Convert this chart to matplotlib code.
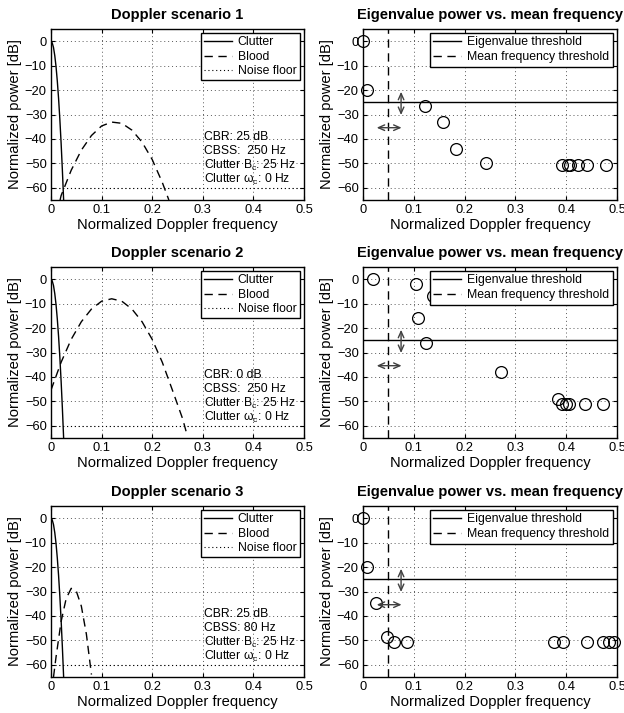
import matplotlib
matplotlib.use("Agg")
import matplotlib.pyplot as plt

plt.rcParams['font.family'] = ['Liberation Sans', 'DejaVu Sans']
plt.rcParams['mathtext.fontset'] = 'custom'
plt.rcParams['mathtext.rm'] = 'Liberation Sans'

# clutter spectrum (same in all scenarios)
clutter_f = [0, 0.0025, 0.005, 0.0075, 0.01, 0.0125, 0.015, 0.0175, 0.02, 0.0225, 0.025]
clutter_p = [0, -0.7, -2.6, -5.9, -10.4, -16.3, -23.4, -31.9, -41.6, -52.7, -65]

# blood spectra
blood1_f = [0.018, 0.02, 0.04, 0.06, 0.08, 0.10, 0.12, 0.14, 0.16, 0.18, 0.20, 0.22, 0.233]
blood1_p = [-65, -63.2, -52.8, -44.6, -38.6, -34.7, -33.1, -33.6, -36.4, -41.3, -48.4, -57.8, -65]
blood2_f = [0, 0.02, 0.04, 0.06, 0.08, 0.10, 0.12, 0.14, 0.16, 0.18, 0.20, 0.22, 0.24, 0.26, 0.268]
blood2_p = [-45.4, -34, -24.6, -17.4, -12.2, -9, -8, -9, -12.2, -17.4, -24.6, -34, -45.4, -57, -63]
blood3_f = [0.005, 0.01, 0.02, 0.03, 0.04, 0.05, 0.06, 0.07, 0.08]
blood3_p = [-65, -56.8, -42.3, -32.9, -28.7, -29.8, -36, -47.5, -64]

noise_floor = -60

# eigenvalue power vs mean frequency
eig1_f = [0.001, 0.007, 0.122, 0.157, 0.184, 0.242, 0.391, 0.403, 0.407, 0.424, 0.442, 0.478]
eig1_p = [0, -19.9, -26.5, -33.2, -44, -49.8, -50.7, -50.7, -50.7, -50.7, -50.7, -50.7]
eig2_f = [0.020, 0.104, 0.137, 0.109, 0.124, 0.271, 0.384, 0.392, 0.399, 0.405, 0.437, 0.473]
eig2_p = [0, -1.8, -7, -15.7, -26.2, -37.9, -49.1, -51, -51, -51, -51.2, -51.2]
eig3_f = [0.001, 0.008, 0.026, 0.047, 0.061, 0.086, 0.377, 0.394, 0.442, 0.473, 0.484, 0.494]
eig3_p = [0, -19.9, -34.9, -48.8, -50.7, -50.7, -50.7, -50.7, -50.7, -50.7, -50.7, -50.7]

eig_thresh = -25
freq_thresh = 0.05

scen_text = [
    ["CBR: 25 dB", "CBSS:  250 Hz"],
    ["CBR: 0 dB", "CBSS:  250 Hz"],
    ["CBR: 25 dB", "CBSS: 80 Hz"],
]
bloods = [(blood1_f, blood1_p), (blood2_f, blood2_p), (blood3_f, blood3_p)]
eigs = [(eig1_f, eig1_p), (eig2_f, eig2_p), (eig3_f, eig3_p)]

fig = plt.figure(figsize=(6.24, 7.13), dpi=100)
bottoms = [0.7195, 0.3857, 0.0505]
h = 0.2398


def style(ax, title):
    ax.set_xlim(0, 0.5)
    ax.set_ylim(-65, 5)
    ax.set_xticks([0, 0.1, 0.2, 0.3, 0.4, 0.5])
    ax.set_xticklabels(["0", "0.1", "0.2", "0.3", "0.4", "0.5"])
    ax.set_yticks([0, -10, -20, -30, -40, -50, -60])
    ax.tick_params(direction='in', top=True, right=True, length=3, labelsize=9.3, pad=3)
    ax.grid(True, linestyle=(0, (1, 3)), color='0.35', linewidth=0.7)
    for s in ax.spines.values():
        s.set_linewidth(1.0)
    ax.set_title(title, fontsize=10.5, fontweight='bold', pad=7)
    ax.set_xlabel("Normalized Doppler frequency", fontsize=10.6, labelpad=1)
    ax.set_ylabel("Normalized power [dB]", fontsize=10.6, labelpad=2)


arrow = dict(arrowstyle='<->,head_length=0.45,head_width=0.2', color='0.25', lw=1,
             shrinkA=0, shrinkB=0)

for i in range(3):
    # left: Doppler spectra
    ax = fig.add_axes([0.0817, bottoms[i], 0.4054, h])
    ax.plot(clutter_f, clutter_p, color='k', lw=1.0, label='Clutter')
    ax.plot(bloods[i][0], bloods[i][1], color='k', lw=1.0, dashes=(6, 4), label='Blood')
    ax.axhline(noise_floor, color='k', lw=0.8, dashes=(1, 2.5), label='Noise floor')
    style(ax, "Doppler scenario %d" % (i + 1))
    leg = ax.legend(loc='upper right', fontsize=8.8, fancybox=False, edgecolor='k',
                    framealpha=1, borderaxespad=0.35, handlelength=2.3,
                    borderpad=0.25, labelspacing=0.2, handletextpad=0.5)
    leg.get_frame().set_linewidth(1.0)
    lines = scen_text[i] + [r"Clutter B$_{\mathrm{c}}$: 25 Hz", "Clutter \u03c9$_{\\mathrm{c}}$: 0 Hz"]
    for j, t in enumerate(lines):
        ax.text(0.302, -39.1 - 5.8 * j, t, fontsize=8.7, va='center', ha='left')

    # right: eigenvalue power vs mean frequency
    ax2 = fig.add_axes([0.5817, bottoms[i], 0.407, h])
    ax2.axhline(eig_thresh, color='k', lw=1.0, label='Eigenvalue threshold')
    ax2.axvline(freq_thresh, color='k', lw=1.0, dashes=(6, 4), label='Mean frequency threshold')
    ax2.plot(eigs[i][0], eigs[i][1], 'o', mfc='none', mec='k', ms=8.5, mew=0.9, clip_on=False)
    ax2.annotate('', xy=(0.075, -20.7), xytext=(0.075, -30.2), arrowprops=arrow)
    ax2.annotate('', xy=(0.027, -35.4), xytext=(0.076, -35.4), arrowprops=arrow)
    style(ax2, "Eigenvalue power vs. mean frequency")
    leg2 = ax2.legend(loc='upper right', fontsize=8.8, fancybox=False, edgecolor='k',
                      framealpha=1, borderaxespad=0.3, handlelength=2.3,
                      borderpad=0.3, labelspacing=0.25, handletextpad=0.5)
    leg2.get_frame().set_linewidth(1.0)
    leg2.set_zorder(5)

fig.savefig("out.png", dpi=100)
